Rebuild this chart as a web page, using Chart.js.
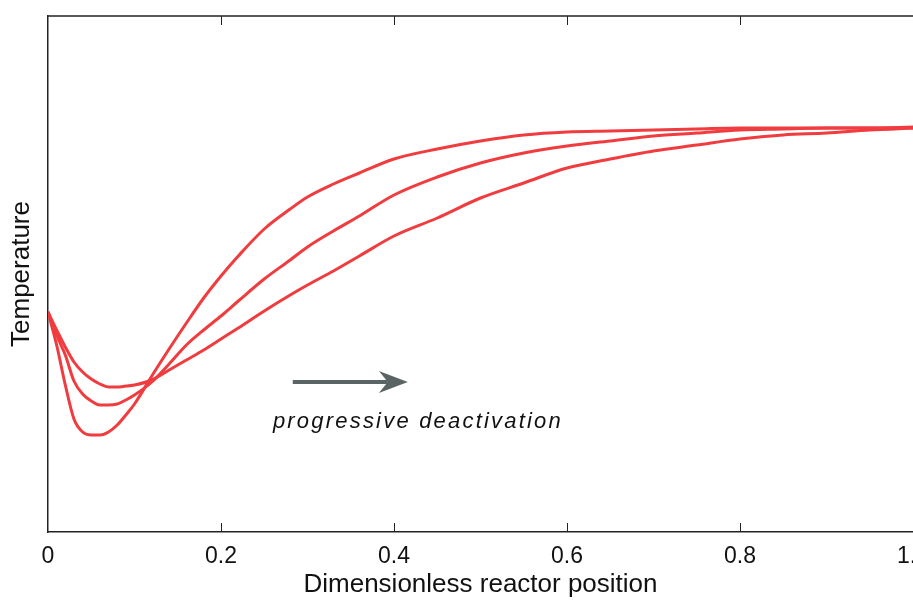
<!DOCTYPE html>
<html>
<head>
<meta charset="utf-8">
<script src="https://cdn.jsdelivr.net/npm/chart.js@4.4.1/dist/chart.umd.min.js"></script>
<style>
  html, body { margin: 0; padding: 0; background: #ffffff; }
  #wrap { width: 913px; height: 602px; }
</style>
</head>
<body>
<div id="wrap"><canvas id="c" width="913" height="602"></canvas></div>
<script>
// Dimensionless reactor position (x)
const xPos = [0, 0.01, 0.02, 0.03, 0.04, 0.05, 0.06, 0.07, 0.08, 0.09, 0.10, 0.12, 0.14, 0.16, 0.18, 0.20, 0.22, 0.25, 0.28, 0.30, 0.33, 0.36, 0.40, 0.45, 0.50, 0.55, 0.60, 0.65, 0.70, 0.75, 0.80, 0.85, 0.90, 0.95, 1.00];
// Temperature (arbitrary units) for three stages of catalyst deactivation
const tempFresh = [220, 187, 147, 113, 100, 97, 97, 100, 107, 117, 128, 156, 183, 209, 234, 256, 276, 303, 323, 335, 348, 359, 373, 383, 391, 397, 400, 401, 402, 403, 404, 404, 404, 404, 404];
const tempMid   = [220, 197, 177, 151, 138, 131, 127, 127, 128, 132, 137, 150, 168, 187, 202, 216, 231, 253, 272, 285, 301, 316, 337, 355, 369, 379, 386, 391, 396, 399, 402, 403, 404, 404, 405];
const tempAged  = [220, 202, 185, 170, 160, 153, 148, 145, 145, 146, 147, 152, 162, 172, 182, 193, 204, 221, 237, 247, 261, 276, 296, 314, 334, 349, 364, 373, 381, 387, 393, 397, 399, 402, 404];
const xTicks = [0, 0.2, 0.4, 0.6, 0.8, 1];
const annotationText = 'progressive deactivation';
const arrowFrom = {x: 0.283, y: 150};
const arrowTo = {x: 0.416, y: 150};
const textAt = {x: 0.260, y: 110};

const toPts = (ys) => xPos.map((x, i) => ({x: x, y: ys[i]}));
const RED = '#f03c3f';
const FONT = '"Liberation Sans", Arial, Helvetica, sans-serif';

const framePlugin = {
  id: 'frame',
  afterDraw(chart) {
    const ctx = chart.ctx;
    const a = chart.chartArea;
    const xs = chart.scales.x, ys = chart.scales.y;
    ctx.save();
    ctx.strokeStyle = '#222';
    ctx.lineWidth = 1.5;
    ctx.beginPath();
    ctx.moveTo(a.left, a.top);
    ctx.lineTo(a.right + 2, a.top);
    ctx.stroke();
    // inward ticks top and bottom
    ctx.lineWidth = 1;
    xs.ticks.forEach(t => {
      if (t.value <= 0 || t.value >= 1) return;
      const px = Math.round(xs.getPixelForValue(t.value)) + 0.5;
      ctx.beginPath();
      ctx.moveTo(px, a.bottom); ctx.lineTo(px, a.bottom - 9);
      ctx.moveTo(px, a.top); ctx.lineTo(px, a.top + 9);
      ctx.stroke();
    });
    // arrow
    const x1 = xs.getPixelForValue(arrowFrom.x), y1 = ys.getPixelForValue(arrowFrom.y);
    const x2 = xs.getPixelForValue(arrowTo.x), y2 = ys.getPixelForValue(arrowTo.y);
    ctx.strokeStyle = '#5a6464';
    ctx.fillStyle = '#5a6464';
    ctx.lineWidth = 4;
    ctx.beginPath();
    ctx.moveTo(x1, y1); ctx.lineTo(x2 - 20, y2);
    ctx.stroke();
    ctx.beginPath();
    ctx.moveTo(x2, y2);
    ctx.lineTo(x2 - 29, y2 - 11);
    ctx.lineTo(x2 - 20, y2);
    ctx.lineTo(x2 - 29, y2 + 11);
    ctx.closePath();
    ctx.fill();
    // text
    ctx.fillStyle = '#111';
    ctx.font = 'italic 22px ' + FONT;
    if ('letterSpacing' in ctx) ctx.letterSpacing = '2.2px';
    ctx.textAlign = 'left';
    ctx.textBaseline = 'middle';
    ctx.fillText(annotationText, xs.getPixelForValue(textAt.x), ys.getPixelForValue(textAt.y));
    ctx.restore();
  }
};

const lineStyle = {borderColor: RED, borderWidth: 3, pointRadius: 0, fill: false, cubicInterpolationMode: 'monotone'};

new Chart(document.getElementById('c'), {
  type: 'line',
  data: {
    datasets: [
      Object.assign({data: toPts(tempFresh)}, lineStyle),
      Object.assign({data: toPts(tempMid)}, lineStyle),
      Object.assign({data: toPts(tempAged)}, lineStyle)
    ]
  },
  options: {
    responsive: false,
    animation: false,
    layout: {padding: {top: 16, right: 0, left: 0, bottom: 0}},
    plugins: {legend: {display: false}, tooltip: {enabled: false}},
    scales: {
      x: {
        type: 'linear', min: 0, max: 1,
        afterBuildTicks(s) { s.ticks = xTicks.map(v => ({value: v})); },
        afterFit(s) { s.height = 70; s.paddingLeft = 0; s.paddingRight = 0; },
        grid: {display: false, drawTicks: false},
        border: {display: true, color: '#222', width: 1.5},
        ticks: {color: '#111', font: {family: FONT, size: 23}, padding: 11, maxRotation: 0, autoSkip: false},
        title: {display: true, text: 'Dimensionless reactor position', color: '#111', font: {family: FONT, size: 26}, padding: {top: 0, bottom: 2}}
      },
      y: {
        type: 'linear', min: 0, max: 516,
        afterFit(s) { s.width = 48; },
        grid: {display: false, drawTicks: false},
        border: {display: true, color: '#222', width: 1.5},
        ticks: {display: false},
        title: {display: true, text: 'Temperature', color: '#111', font: {family: FONT, size: 26}, padding: {top: 6, bottom: 0}}
      }
    }
  },
  plugins: [framePlugin]
});
</script>
</body>
</html>
